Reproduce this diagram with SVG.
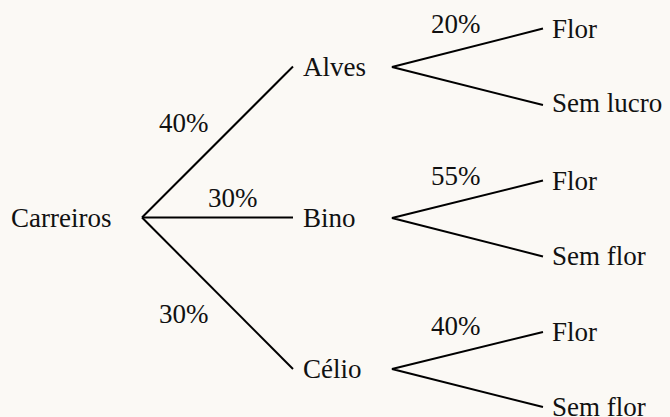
<svg xmlns="http://www.w3.org/2000/svg" width="670" height="417" viewBox="0 0 670 417">
  <style>
    .edge { stroke: #000; stroke-width: 2; fill: none; }
  </style>
  <rect width="670" height="417" fill="#fbf9f5"/>

  <!-- branches of the tree -->
  <g id="connectors">
    <line class="edge" x1="142" y1="217.5" x2="293" y2="66.5"/>
    <line class="edge" x1="142" y1="217.5" x2="293" y2="217.5"/>
    <line class="edge" x1="142" y1="217.5" x2="293" y2="369"/>

    <polyline class="edge" points="543,28.5 392,67 543,105"/>
    <polyline class="edge" points="543,180.5 392,218 543,256.5"/>
    <polyline class="edge" points="543,332 392,369 543,407"/>
  </g>

  <g font-family="Liberation Serif" font-size="27" fill="#111">
    <!-- probability labels -->
    <g id="labels">
      <text x="159" y="132">40%</text>
      <text x="208" y="207">30%</text>
      <text x="159" y="323">30%</text>
      <text x="431" y="33">20%</text>
      <text x="431" y="185">55%</text>
      <text x="431" y="335">40%</text>
    </g>

    <g id="carreiros"><text x="11" y="226.5">Carreiros</text></g>

    <g id="alves"><text x="303" y="76">Alves</text></g>
    <g id="bino"><text x="303" y="227">Bino</text></g>
    <g id="celio"><text x="303" y="378">Célio</text></g>

    <g id="alves-flor"><text x="552" y="38">Flor</text></g>
    <g id="alves-sem-lucro"><text x="552" y="112">Sem lucro</text></g>
    <g id="bino-flor"><text x="552" y="190">Flor</text></g>
    <g id="bino-sem-flor"><text x="552" y="265">Sem flor</text></g>
    <g id="celio-flor"><text x="552" y="341">Flor</text></g>
    <g id="celio-sem-flor"><text x="552" y="416">Sem flor</text></g>
  </g>
</svg>
